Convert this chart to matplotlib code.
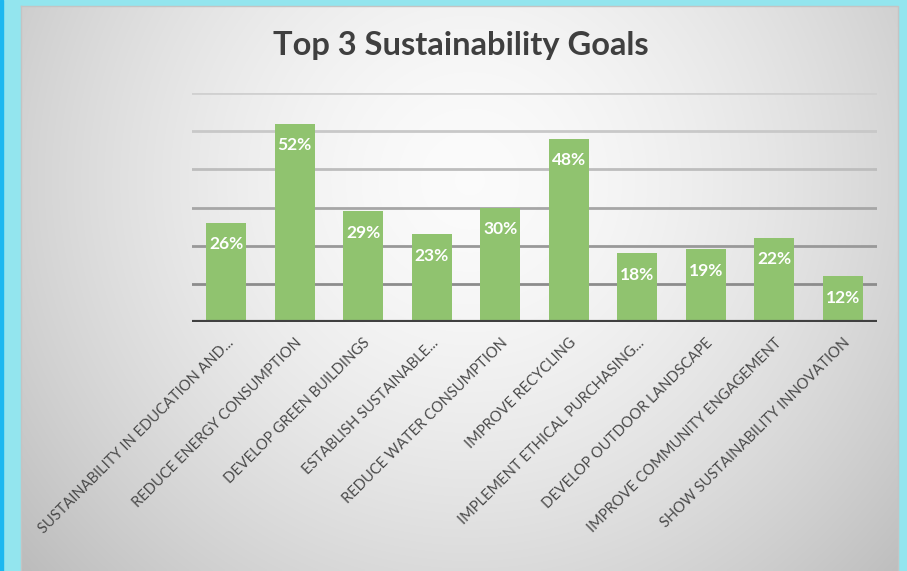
import numpy as np
import matplotlib
matplotlib.use('Agg')
import matplotlib.pyplot as plt

plt.rcParams['font.family'] = ['Lato', 'DejaVu Sans']

goals = ['SUSTAINABILITY IN EDUCATION AND...', 'REDUCE ENERGY CONSUMPTION',
         'DEVELOP GREEN BUILDINGS', 'ESTABLISH SUSTAINABLE...',
         'REDUCE WATER CONSUMPTION', 'IMPROVE RECYCLING',
         'IMPLEMENT ETHICAL PURCHASING...', 'DEVELOP OUTDOOR LANDSCAPE',
         'IMPROVE COMMUNITY ENGAGEMENT', 'SHOW SUSTAINABILITY INNOVATION']
pct = [26, 52, 29, 23, 30, 48, 18, 19, 22, 12]
grid_levels = [10, 20, 30, 40, 50, 60]

W, H = 907, 571
fig = plt.figure(figsize=(W/100, H/100), dpi=100)

# cyan frame with a blue strip on the left
bg = fig.add_axes([0, 0, 1, 1])
bg.set_xlim(0, W); bg.set_ylim(H, 0); bg.axis('off')
bg.add_patch(plt.Rectangle((0, 0), W, H, color='#93e5ee', zorder=0))
bg.add_patch(plt.Rectangle((0, 0), 2.5, H, color='#1bb8f0', zorder=1))

# panel with radial grey gradient
x0, x1, y0, y1 = 21, 898, 6, 571
xx, yy = np.meshgrid(np.linspace(x0, x1, 300), np.linspace(y0, y1, 200))
r = np.sqrt(((xx - 470) / 520) ** 2 + ((yy - 180) / 520) ** 2)
shade = 0.985 - 0.2 * np.clip(r, 0, 1.2) ** 1.6
img = np.dstack([shade, shade, shade])
bg.imshow(img, extent=(x0, x1, y1, y0), zorder=2, aspect='auto', interpolation='bilinear')
bg.plot([x0, x1, x1], [y0, y0, y1], color='#c4c4c4', lw=1, zorder=3)
bg.plot([x0, x0], [y0, y1], color='#c4c4c4', lw=1, zorder=3)

fig.text(461/W, 1 - 46/H, 'Top 3 Sustainability Goals', ha='center', va='center',
         fontsize=23.5, fontweight='bold', color='#3f3f3f')

ax = fig.add_axes([192/W, 1 - 322/H, (877-192)/W, (322-93)/H])
ax.patch.set_alpha(0)
x = np.arange(len(pct))
ax.set_xlim(-0.5, len(pct) - 0.5)
ax.set_ylim(0, 60)

# gridlines get darker toward the baseline
grid_cols = ['#8c8c8c', '#999999', '#a6a6a6', '#bdbdbd', '#c8c8c8', '#d0d0d0']
for lvl, c in zip(grid_levels, grid_cols):
    ax.axhline(lvl, color=c, lw=2, zorder=1)

ax.bar(x, pct, width=0.58, color='#90c36f', zorder=2)
ax.axhline(0, color='#404040', lw=3, zorder=3)

for xi, v in zip(x, pct):
    ax.text(xi, v - 5.6, f'{v}%', ha='center', va='center', color='white',
            fontsize=12.5, fontweight='bold', zorder=4)

for s in ax.spines.values():
    s.set_visible(False)
ax.set_yticks([])
ax.set_xticks(x)
ax.set_xticklabels(goals, rotation=45, ha='right', rotation_mode='anchor',
                   fontsize=10.5, color='#4a4a4a')
ax.tick_params(axis='x', length=0, pad=10)

fig.savefig('out.png', dpi=100)
